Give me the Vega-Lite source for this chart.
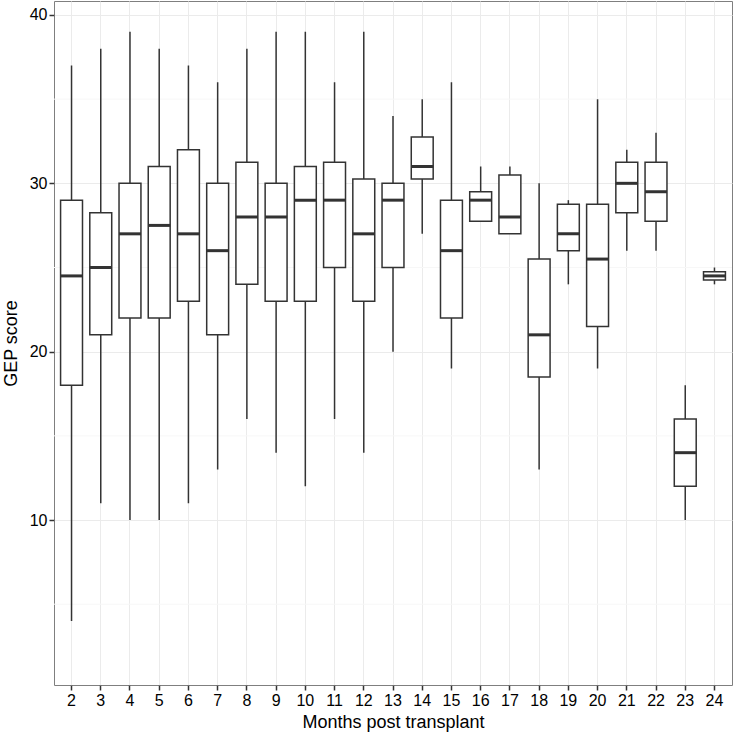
{
  "$schema": "https://vega.github.io/schema/vega-lite/v6.json",
  "width": 678,
  "height": 684,
  "autosize": "none",
  "padding": {"left": 54, "top": 1, "right": 1, "bottom": 52},
  "background": "white",
  "config": {
    "font": "Liberation Sans",
    "view": {"stroke": "#7f7f7f", "strokeWidth": 1},
    "axis": {
      "domain": false,
      "gridColor": "#ebebeb",
      "gridWidth": 1,
      "tickColor": "#333333",
      "tickSize": 5,
      "tickWidth": 1.5,
      "labelColor": "#000000",
      "labelFontSize": 16,
      "labelPadding": 2,
      "titleColor": "#000000",
      "titleFontSize": 18,
      "titleFontWeight": "normal"
    }
  },
  "data": {
    "values": [
      {"month": 2, "lo": 4, "q1": 18, "med": 24.5, "q3": 29, "hi": 37},
      {"month": 3, "lo": 11, "q1": 21, "med": 25, "q3": 28.25, "hi": 38},
      {"month": 4, "lo": 10, "q1": 22, "med": 27, "q3": 30, "hi": 39},
      {"month": 5, "lo": 10, "q1": 22, "med": 27.5, "q3": 31, "hi": 38},
      {"month": 6, "lo": 11, "q1": 23, "med": 27, "q3": 32, "hi": 37},
      {"month": 7, "lo": 13, "q1": 21, "med": 26, "q3": 30, "hi": 36},
      {"month": 8, "lo": 16, "q1": 24, "med": 28, "q3": 31.25, "hi": 38},
      {"month": 9, "lo": 14, "q1": 23, "med": 28, "q3": 30, "hi": 39},
      {"month": 10, "lo": 12, "q1": 23, "med": 29, "q3": 31, "hi": 39},
      {"month": 11, "lo": 16, "q1": 25, "med": 29, "q3": 31.25, "hi": 36},
      {"month": 12, "lo": 14, "q1": 23, "med": 27, "q3": 30.25, "hi": 39},
      {"month": 13, "lo": 20, "q1": 25, "med": 29, "q3": 30, "hi": 34},
      {"month": 14, "lo": 27, "q1": 30.25, "med": 31, "q3": 32.75, "hi": 35},
      {"month": 15, "lo": 19, "q1": 22, "med": 26, "q3": 29, "hi": 36},
      {"month": 16, "lo": 27.75, "q1": 27.75, "med": 29, "q3": 29.5, "hi": 31},
      {"month": 17, "lo": 27, "q1": 27, "med": 28, "q3": 30.5, "hi": 31},
      {"month": 18, "lo": 13, "q1": 18.5, "med": 21, "q3": 25.5, "hi": 30},
      {"month": 19, "lo": 24, "q1": 26, "med": 27, "q3": 28.75, "hi": 29},
      {"month": 20, "lo": 19, "q1": 21.5, "med": 25.5, "q3": 28.75, "hi": 35},
      {"month": 21, "lo": 26, "q1": 28.25, "med": 30, "q3": 31.25, "hi": 32},
      {"month": 22, "lo": 26, "q1": 27.75, "med": 29.5, "q3": 31.25, "hi": 33},
      {"month": 23, "lo": 10, "q1": 12, "med": 14, "q3": 16, "hi": 18},
      {"month": 24, "lo": 24, "q1": 24.25, "med": 24.5, "q3": 24.75, "hi": 25}
    ]
  },
  "encoding": {
    "x": {
      "field": "month",
      "type": "ordinal",
      "title": "Months post transplant",
      "scale": {"type": "band", "paddingInner": 0, "paddingOuter": 0.1},
      "axis": {"labelAngle": 0, "grid": true, "bandPosition": 0.5, "titlePadding": 5}
    }
  },
  "layer": [
    {
      "data": {"values": [{"g": 5}, {"g": 15}, {"g": 25}, {"g": 35}]},
      "mark": {"type": "rule", "color": "#f7f7f7", "strokeWidth": 1},
      "encoding": {
        "x": null,
        "y": {"field": "g", "type": "quantitative", "title": "GEP score",
              "scale": {"domain": [0.2, 40.83], "nice": false, "zero": false},
              "axis": {"values": [10, 20, 30, 40], "grid": true, "titlePadding": 9}}
      }
    },
    {
      "mark": {"type": "rule", "color": "#333333", "strokeWidth": 1.5},
      "encoding": {
        "y": {"field": "lo", "type": "quantitative", "title": "GEP score",
              "scale": {"domain": [0.2, 40.83], "nice": false, "zero": false},
              "axis": {"values": [10, 20, 30, 40], "grid": true, "titlePadding": 9}},
        "y2": {"field": "hi"}
      }
    },
    {
      "mark": {"type": "bar", "fill": "white", "stroke": "#333333", "strokeWidth": 1.5, "width": {"band": 0.75}},
      "encoding": {
        "y": {"field": "q1", "type": "quantitative", "title": "GEP score",
              "scale": {"domain": [0.2, 40.83], "nice": false, "zero": false},
              "axis": {"values": [10, 20, 30, 40], "grid": true, "titlePadding": 9}},
        "y2": {"field": "q3"}
      }
    },
    {
      "mark": {"type": "tick", "color": "#333333", "thickness": 3, "size": 22, "opacity": 1},
      "encoding": {
        "y": {"field": "med", "type": "quantitative", "title": "GEP score",
              "scale": {"domain": [0.2, 40.83], "nice": false, "zero": false},
              "axis": {"values": [10, 20, 30, 40], "grid": true, "titlePadding": 9}}
      }
    }
  ]
}
